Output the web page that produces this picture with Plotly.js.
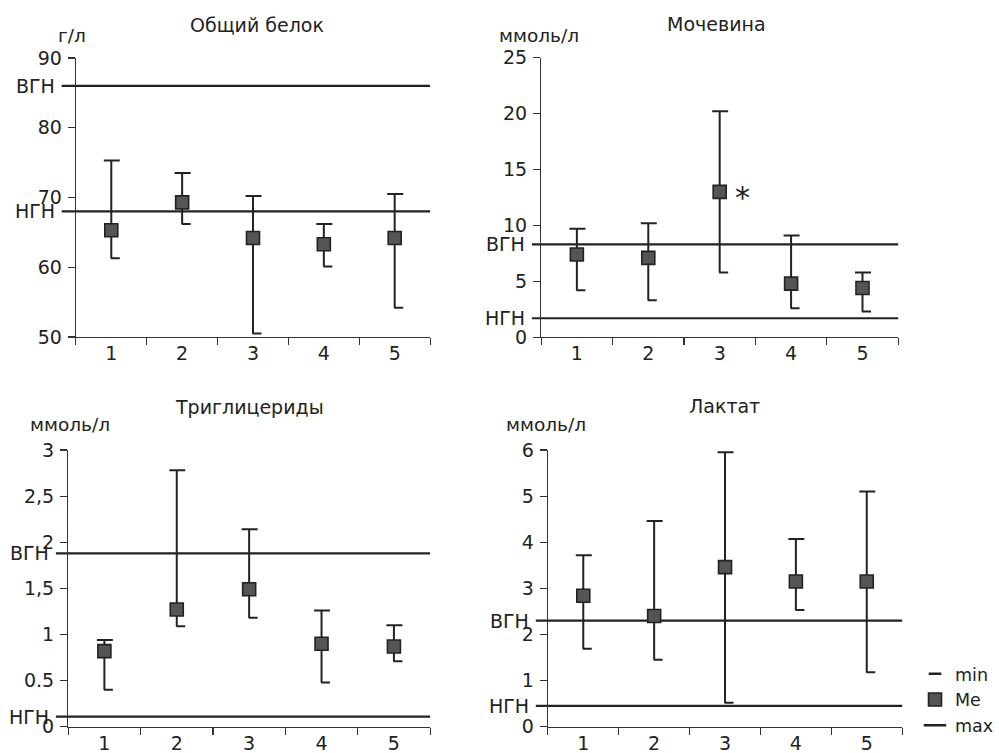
<!DOCTYPE html>
<html>
<head>
<meta charset="utf-8">
<script src="https://cdn.plot.ly/plotly-3.0.1.min.js"></script>
<style>html,body{margin:0;padding:0;background:#fff;}#chart{width:999px;height:753px;}</style>
</head>
<body>
<div id="chart"></div>
<script>
// ---- data ----
var groups = [1, 2, 3, 4, 5];
var groupLabels = ['1', '2', '3', '4', '5'];

var proteinMe  = [65.3, 69.3, 64.2, 63.3, 64.2];
var proteinMin = [61.3, 66.2, 50.5, 60.1, 54.2];
var proteinMax = [75.3, 73.5, 70.2, 66.2, 70.5];
var proteinNorm = {upper: 86, lower: 68};

var ureaMe  = [7.4, 7.1, 13.0, 4.8, 4.4];
var ureaMin = [4.2, 3.3, 5.8, 2.6, 2.3];
var ureaMax = [9.7, 10.2, 20.2, 9.1, 5.8];
var ureaNorm = {upper: 8.3, lower: 1.7};

var tgMe  = [0.82, 1.27, 1.49, 0.90, 0.87];
var tgMin = [0.40, 1.09, 1.18, 0.48, 0.71];
var tgMax = [0.94, 2.78, 2.14, 1.26, 1.10];
var tgNorm = {upper: 1.88, lower: 0.11};

var lacMe  = [2.84, 2.40, 3.46, 3.15, 3.15];
var lacMin = [1.69, 1.45, 0.52, 2.53, 1.18];
var lacMax = [3.72, 4.46, 5.95, 4.07, 5.10];
var lacNorm = {upper: 2.3, lower: 0.45};

var tgTickVals = [0, 0.5, 1, 1.5, 2, 2.5, 3];
var tgTickText = ['0', '0.5', '1', '1,5', '2', '2,5', '3'];

var titles = ['Общий белок', 'Мочевина', 'Триглицериды', 'Лактат'];
var units = ['г/л', 'ммоль/л', 'ммоль/л', 'ммоль/л'];
var upperLabel = 'ВГН', lowerLabel = 'НГН';

// ---- styling ----
var FONT = 'DejaVu Sans, Verdana, sans-serif';
var INK = '#222';
var FILL = '#555';
var TICKF = 19;

var panels = [
  {me: proteinMe, mn: proteinMin, mx: proteinMax, norm: proteinNorm, xa: 'x', ya: 'y',
   xd: [0.0761, 0.4314], yd: [0.5525, 0.9230], range: [50, 90], dtick: 10, lineStart: -0.04,
   title: [0.2573, 0.9668], unit: [0.0721, 0.9535]},
  {me: ureaMe, mn: ureaMin, mx: ureaMax, norm: ureaNorm, xa: 'x2', ya: 'y2',
   xd: [0.5428, 0.9009], yd: [0.5521, 0.9234], range: [0, 25], dtick: 5, lineStart: -0.026,
   title: [0.7182, 0.9681], unit: [0.5405, 0.9535]},
  {me: tgMe, mn: tgMin, mx: tgMax, norm: tgNorm, xa: 'x3', ya: 'y3',
   xd: [0.0684, 0.4314], yd: [0.0349, 0.4024], range: [0, 3], tickvals: tgTickVals, ticktext: tgTickText, lineStart: -0.034,
   title: [0.2503, 0.4599], unit: [0.0701, 0.4356]},
  {me: lacMe, mn: lacMin, mx: lacMax, norm: lacNorm, xa: 'x4', ya: 'y4',
   xd: [0.5495, 0.9049], yd: [0.0349, 0.4024], range: [0, 6], dtick: 1, lineStart: -0.034,
   title: [0.7265, 0.4612], unit: [0.5475, 0.4356]}
];

var data = [];
var shapes = [];
var annotations = [];
var layout = {
  width: 999, height: 753,
  margin: {l: 0, r: 0, t: 0, b: 0},
  paper_bgcolor: '#fff', plot_bgcolor: 'rgba(0,0,0,0)',
  font: {family: FONT, size: TICKF, color: INK},
  showlegend: true,
  legend: {x: 0.918, y: 0.129, xanchor: 'left', yanchor: 'top', font: {family: FONT, size: 17.5, color: INK},
           bgcolor: 'rgba(0,0,0,0)', tracegroupgap: 0, itemwidth: 30}
};

panels.forEach(function (p, k) {
  var sfx = k === 0 ? '' : String(k + 1);
  data.push({
    type: 'scatter', mode: 'markers', x: groups, y: p.me, xaxis: p.xa, yaxis: p.ya,
    showlegend: false, hoverinfo: 'y',
    marker: {symbol: 'square', size: 13, color: FILL, line: {color: INK, width: 1.6}},
    error_y: {type: 'data', symmetric: false,
      array: p.mx.map(function (v, i) { return v - p.me[i]; }),
      arrayminus: p.me.map(function (v, i) { return v - p.mn[i]; }),
      width: 0, thickness: 2, color: INK}
  });
  // caps: full cap at max, right half cap at min
  groups.forEach(function (g, i) {
    shapes.push({type: 'line', xref: p.xa, yref: p.ya, xsizemode: 'pixel', xanchor: g,
      x0: -7.5, x1: 8.5, y0: p.mx[i], y1: p.mx[i], line: {color: INK, width: 2}, layer: 'above'});
    shapes.push({type: 'line', xref: p.xa, yref: p.ya, xsizemode: 'pixel', xanchor: g,
      x0: -0.5, x1: 8.5, y0: p.mn[i], y1: p.mn[i], line: {color: INK, width: 2}, layer: 'above'});
  });
  // norm lines
  [p.norm.upper, p.norm.lower].forEach(function (v, j) {
    shapes.push({type: 'line', xref: p.xa + ' domain', yref: p.ya, x0: p.lineStart, x1: 1, y0: v, y1: v,
      line: {color: INK, width: 2.2}, layer: 'below'});
    annotations.push({xref: p.xa + ' domain', yref: p.ya, x: p.lineStart, y: v, xanchor: 'right', yanchor: 'middle',
      xshift: -5, text: j === 0 ? upperLabel : lowerLabel, showarrow: false, font: {family: FONT, size: TICKF, color: INK}});
  });
  annotations.push({xref: 'paper', yref: 'paper', x: p.title[0], y: p.title[1], xanchor: 'center', yanchor: 'middle',
    text: titles[k], showarrow: false, font: {family: FONT, size: 19, color: INK}});
  annotations.push({xref: 'paper', yref: 'paper', x: p.unit[0], y: p.unit[1], xanchor: 'center', yanchor: 'middle',
    text: units[k], showarrow: false, font: {family: FONT, size: 18.5, color: INK}});

  var ya = {domain: p.yd, range: p.range, anchor: p.xa, showgrid: false, zeroline: false,
    showline: true, linecolor: '#333', linewidth: 1.2, ticks: 'outside', ticklen: 7, tickwidth: 1.2, tickcolor: '#333',
    ticklabelstandoff: 2,
    tickfont: {family: FONT, size: TICKF, color: INK}, fixedrange: true};
  if (p.tickvals) { ya.tickmode = 'array'; ya.tickvals = p.tickvals; ya.ticktext = p.ticktext; }
  else { ya.tickmode = 'linear'; ya.tick0 = p.range[0]; ya.dtick = p.dtick; }
  var xa = {domain: p.xd, range: [0.5, 5.5], anchor: p.ya, showgrid: false, zeroline: false,
    showline: true, linecolor: '#333', linewidth: 1.2,
    tickmode: 'array', tickvals: groups, ticktext: groupLabels, ticks: '', ticklabelstandoff: -1,
    tickfont: {family: FONT, size: TICKF, color: INK},
    minor: {tickmode: 'linear', tick0: 0.5, dtick: 1, ticks: 'outside', ticklen: 7, tickwidth: 1.2, tickcolor: '#333', showgrid: false},
    fixedrange: true};
  layout['xaxis' + sfx] = xa;
  layout['yaxis' + sfx] = ya;
});

// asterisk for urea group 3
annotations.push({xref: 'x2', yref: 'y2', x: groups[2], y: ureaMe[2], xanchor: 'center', yanchor: 'middle',
  xshift: 23, yshift: -6, text: '*', showarrow: false, font: {family: FONT, size: 30, color: INK}});

// legend entries
data.push({type: 'scatter', mode: 'markers', x: [null], y: [null], xaxis: 'x4', yaxis: 'y4', name: 'min', legendgroup: 'a',
  marker: {symbol: 'line-ew', size: 9, color: INK, line: {color: INK, width: 2.5}}});
data.push({type: 'scatter', mode: 'markers', x: [null], y: [null], xaxis: 'x4', yaxis: 'y4', name: 'Me', legendgroup: 'b',
  marker: {symbol: 'square', size: 13, color: FILL, line: {color: INK, width: 1.6}}});
data.push({type: 'scatter', mode: 'markers', x: [null], y: [null], xaxis: 'x4', yaxis: 'y4', name: 'max', legendgroup: 'c',
  marker: {symbol: 'line-ew', size: 16, color: INK, line: {color: INK, width: 2.5}}});

layout.shapes = shapes;
layout.annotations = annotations;

Plotly.newPlot('chart', data, layout, {displayModeBar: false, staticPlot: true});
</script>
</body>
</html>
